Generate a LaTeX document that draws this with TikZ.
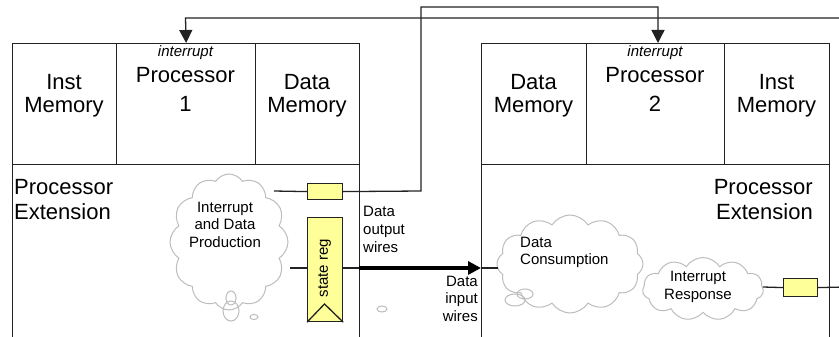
\documentclass[tikz,border=0pt]{standalone}
\usepackage{fontspec}
\setmainfont{Liberation Sans}
\usetikzlibrary{shapes.symbols,arrows.meta}
\definecolor{regyellow}{HTML}{FFFF99}
\definecolor{cloudgray}{HTML}{BDBDBD}
\definecolor{linecol}{HTML}{222222}
\tikzset{
  cell/.style={draw=linecol, line width=1.3pt, anchor=north west, inner sep=0},
  regbox/.style={draw=linecol, fill=regyellow, line width=1.2pt, inner sep=0, anchor=north west},
  thought/.style={cloud, draw=cloudgray, line width=1pt, cloud puffs=12, cloud puff arc=115, cloud ignores aspect, inner sep=0},
  bubble/.style={draw=cloudgray, line width=1pt},
  bigtxt/.style={font=\fontsize{22}{25}\selectfont, inner sep=0, anchor=base, text=black},
  smalltxt/.style={font=\fontsize{15}{18}\selectfont, inner sep=0, anchor=base, text=black},
  wire/.style={draw=linecol, line width=1.3pt},
  intarrow/.style={wire, -{Triangle[length=13pt,width=13pt]}},
  busarrow/.style={draw=black, line width=4pt, -{Triangle[length=13pt,width=13pt]}}
}
\begin{document}
\begin{tikzpicture}[x=1pt,y=-1pt]
\clip (0,0) rectangle (839,337);
\fill[white] (0,0) rectangle (839,337);

% ---- left block (processor 1)
\node[cell, minimum width=347pt, minimum height=320pt] (blkA) at (12,43) {};
\node[cell, minimum width=104pt, minimum height=121pt] (imA) at (12,43) {};
\node[cell, minimum width=139pt, minimum height=121pt] (procA) at (116,43) {};
\node[cell, minimum width=104pt, minimum height=121pt] (dmA) at (255,43) {};

\node[bigtxt] (imA1) at (64,89) {Inst};
\node[bigtxt] (imA2) at (64,113) {Memory};
\node[smalltxt, font=\fontsize{15}{18}\selectfont\itshape] (irqA) at (185.5,57) {interrupt};
\node[bigtxt] (procA1) at (185.5,83) {Processor};
\node[bigtxt] (procA2) at (185.5,112) {1};
\node[bigtxt] (dmA1) at (307,89) {Data};
\node[bigtxt] (dmA2) at (307,113) {Memory};
\node[bigtxt, anchor=base west] (extA1) at (14,194) {Processor};
\node[bigtxt, anchor=base west] (extA2) at (14,219) {Extension};

% ---- right block (processor 2)
\node[cell, minimum width=348pt, minimum height=320pt] (blkB) at (481,43) {};
\node[cell, minimum width=105pt, minimum height=121pt] (dmB) at (481,43) {};
\node[cell, minimum width=138pt, minimum height=121pt] (procB) at (586,43) {};
\node[cell, minimum width=105pt, minimum height=121pt] (imB) at (724,43) {};

\node[bigtxt] (dmB1) at (533.5,89) {Data};
\node[bigtxt] (dmB2) at (533.5,113) {Memory};
\node[smalltxt, font=\fontsize{15}{18}\selectfont\itshape] (irqB) at (655,57) {interrupt};
\node[bigtxt] (procB1) at (655,83) {Processor};
\node[bigtxt] (procB2) at (655,112) {2};
\node[bigtxt] (imB1) at (776.5,89) {Inst};
\node[bigtxt] (imB2) at (776.5,113) {Memory};
\node[bigtxt, anchor=base east] (extB1) at (813,194) {Processor};
\node[bigtxt, anchor=base east] (extB2) at (813,219) {Extension};

% ---- clouds
\node[thought, minimum width=118pt, minimum height=136pt] (cloudA) at (229,242) {};
\draw[bubble] (231,311) ellipse [x radius=8pt, y radius=10pt];
\draw[bubble] (231,298) ellipse [x radius=5pt, y radius=7pt];
\draw[bubble] (254,317) ellipse [x radius=4pt, y radius=2.5pt];
\draw[bubble] (382,309) ellipse [x radius=5pt, y radius=3pt];
\node[smalltxt] (cA1) at (225,212) {Interrupt};
\node[smalltxt] (cA2) at (225,229.5) {and Data};
\node[smalltxt] (cA3) at (225,247) {Production};

\node[thought, minimum width=146pt, minimum height=98pt] (cloudB) at (570,264) {};
\draw[bubble] (515,300) ellipse [x radius=10pt, y radius=6pt];
\draw[bubble] (525,294) ellipse [x radius=8pt, y radius=5pt];
\node[smalltxt, anchor=base west] (cB1) at (520,247) {Data};
\node[smalltxt, anchor=base west] (cB2) at (520,264.5) {Consumption};

\node[thought, cloud puffs=11, minimum width=121pt, minimum height=63pt] (cloudC) at (703,289) {};
\node[smalltxt] (cC1) at (698,281.5) {Interrupt};
\node[smalltxt] (cC2) at (698,299) {Response};

% ---- registers
\node[regbox, minimum width=35pt, minimum height=16pt] (boxA) at (307,183) {};
\node[regbox, minimum width=35pt, minimum height=104pt] (reg) at (307,217) {};
\node[smalltxt, rotate=90, anchor=center] (regtxt) at (324.5,268) {state reg};
\draw[wire] (reg.south west) -- (324.5,304) -- (reg.south east);
\node[regbox, minimum width=34pt, minimum height=18pt] (boxB) at (783,278) {};

% ---- wire labels
\node[smalltxt, anchor=base west] (out1) at (363,216) {Data};
\node[smalltxt, anchor=base west] (out2) at (363,234) {output};
\node[smalltxt, anchor=base west] (out3) at (363,252) {wires};
\node[smalltxt, anchor=base east] (in1) at (478,286) {Data};
\node[smalltxt, anchor=base east] (in2) at (478,303.5) {input};
\node[smalltxt, anchor=base east] (in3) at (478,321) {wires};

% ---- connectors
\coordinate (cAout) at (274,191);
\coordinate (cAreg) at (290,268);
\coordinate (edgeA) at (359,268);
\coordinate (cBin) at (498,268);
\coordinate (cCout) at (763,287);
\coordinate (offR) at (845,287);
\coordinate (feedR) at (845,18);
\coordinate (upB) at (421,191);
\coordinate (topB) at (421,7);
\coordinate (tipB) at (658,43);

\draw[wire] (cAout) -- (boxA.west);
\draw[wire] (cAreg) -- (cAreg -| reg.west);
\draw[wire] (reg.east |- edgeA) -- (edgeA);
\draw[busarrow] (edgeA) -- (edgeA -| blkB.west);
\draw[wire] (edgeA -| blkB.west) -- (cBin);
\draw[wire] (cCout) -- (boxB.west);
\draw[wire] (boxB.east) -- (offR);

\draw[intarrow] (feedR) -- (185.5,18) -- (procA.north);
\draw[intarrow] (boxA.east) -- (upB) -- (topB) -- (tipB |- topB) -- (tipB);
\end{tikzpicture}
\end{document}
